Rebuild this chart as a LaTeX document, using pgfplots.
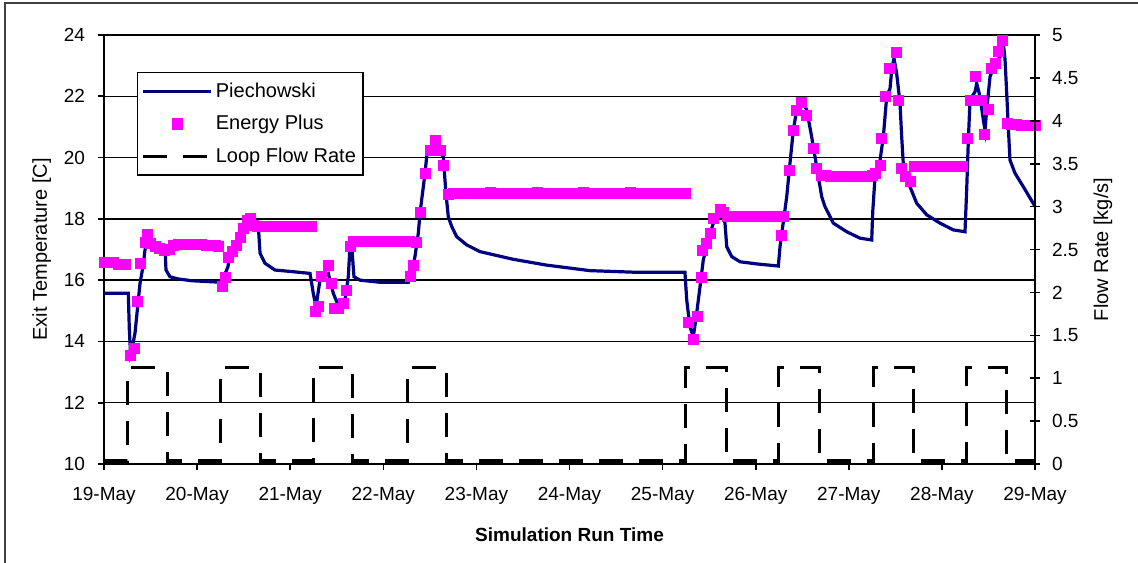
\documentclass[border=0pt]{standalone}
\usepackage{fontspec}
\setmainfont{Liberation Sans}
\usepackage{pgfplots}
\pgfplotsset{compat=1.18}
\definecolor{pnavy}{HTML}{000080}
\definecolor{epmag}{HTML}{FF00FF}

% common sizes: 1 px of the reference = 0.5pt
\pgfplotsset{
  basebox/.style={
    scale only axis, width=465.5pt, height=214.5pt,
    xmin=0, xmax=10, clip=false,
    /pgf/number format/assume math mode=true,
    tick label style={font=\fontsize{9.5}{11}\selectfont},
    tick style={black, line width=0.8pt},
    axis line style={black, line width=0.8pt},
  },
}

\begin{document}
\begin{tikzpicture}
\useasboundingbox (-52pt,-49pt) rectangle (517pt,232pt);
\draw[black!75, line width=0.9pt] (-49.5pt,-60pt) -- (-49.5pt,230.5pt) -- (530pt,230.5pt);

% ---- temperatures (left axis)
\begin{axis}[
  basebox,
  ymin=10, ymax=24,
  axis x line*=bottom, axis y line*=left,
  xtick={0,...,10},
  xticklabels={19-May,20-May,21-May,22-May,23-May,24-May,25-May,26-May,27-May,28-May,29-May},
  ytick={10,12,...,24},
  ymajorgrids, grid style={black, line width=0.7pt},
  tick align=outside, major tick length=3pt,
  xticklabel style={yshift=-5pt},
  yticklabel style={xshift=-3pt},
  xlabel={\bfseries Simulation Run Time},
  xlabel style={at={(axis description cs:0.5,-0.1655)}, anchor=center, font=\fontsize{9.5}{11}\selectfont},
  ylabel={Exit Temperature [C]},
  ylabel style={at={(axis description cs:-0.067,0.5)}, anchor=center, font=\fontsize{10}{12}\selectfont},
]

\addplot[pnavy, line width=1.6pt] coordinates {
(0,15.57) (0.261,15.57) (0.272,14.4) (0.285,13.6) (0.300,13.75) (0.333,14.27)
(0.387,15.9) (0.422,16.5) (0.440,16.98) (0.459,17.26) (0.473,17.09) (0.655,17.09)
(0.666,16.33) (0.709,16.11) (0.795,16.04) (0.945,15.98) (1.264,15.93) (1.332,16.44)
(1.353,16.9) (1.479,17.31) (1.533,17.74) (1.568,17.96) (1.590,17.85) (1.657,17.8)
(1.676,16.88) (1.729,16.55) (1.837,16.33) (2.016,16.28) (2.213,16.22) (2.248,15.57)
(2.277,15.13) (2.320,16.0) (2.374,16.17) (2.409,16.22) (2.463,15.57) (2.499,15.3)
(2.589,15.35) (2.624,16.11) (2.642,17.09) (2.661,17.09) (2.685,16.11) (2.750,16.0)
(2.965,15.93) (3.269,15.93) (3.305,16.22) (3.340,16.77) (3.376,17.53) (3.394,18.18)
(3.430,19.05) (3.448,19.49) (3.466,20.03) (3.502,20.3) (3.574,20.3) (3.644,20.03)
(3.673,18.83) (3.698,18.07) (3.735,17.75) (3.788,17.42) (3.896,17.15) (4.039,16.93)
(4.396,16.68) (4.755,16.49) (5.220,16.31) (5.685,16.26) (6.240,16.26) (6.259,15.35)
(6.294,14.48) (6.330,14.15) (6.366,14.92) (6.402,15.79) (6.437,16.66) (6.491,17.31)
(6.545,17.86) (6.598,18.18) (6.635,18.23) (6.670,17.86) (6.689,17.09) (6.742,16.77)
(6.831,16.6) (7.011,16.53) (7.243,16.46) (7.261,17.09) (7.333,18.72) (7.368,19.81)
(7.404,20.9) (7.440,21.55) (7.494,21.88) (7.548,21.55) (7.601,20.68) (7.655,19.7)
(7.709,18.72) (7.744,18.4) (7.834,17.86) (7.977,17.58) (8.120,17.37) (8.246,17.31)
(8.257,18.23) (8.282,19.38) (8.336,19.92) (8.371,20.68) (8.407,21.99) (8.443,22.26)
(8.461,22.86) (8.485,23.24) (8.514,22.75) (8.550,21.77) (8.568,20.68) (8.585,19.81)
(8.622,19.38) (8.657,19.05) (8.729,18.51) (8.837,18.13) (8.980,17.86) (9.122,17.64)
(9.248,17.58) (9.266,18.94) (9.284,20.57) (9.302,21.88) (9.356,22.15) (9.374,22.42)
(9.409,21.99) (9.445,21.23) (9.463,20.9) (9.481,21.55) (9.517,22.64) (9.570,23.07)
(9.624,23.29) (9.660,23.73) (9.678,23.2) (9.696,22.1) (9.713,21.01) (9.731,19.92)
(9.785,19.49) (9.874,19.05) (10.0,18.41)
};

\addplot[only marks, mark=square*, mark size=2.5pt, epmag, mark options={draw=epmag, fill=epmag}] coordinates {
(0,16.58) (0.05,16.58) (0.1,16.57) (0.15,16.52) (0.2,16.5) (0.23,16.5)
(0.279,13.56) (0.325,13.78) (0.358,15.3) (0.387,16.55) (0.44,17.22) (0.469,17.5)
(0.5,17.2) (0.55,17.1) (0.6,17.05) (0.65,16.98) (0.7,17.0) (0.75,17.12) (0.8,17.18)
(0.85,17.18) (0.9,17.18) (0.95,17.18) (1.0,17.18) (1.05,17.16) (1.1,17.15) (1.15,17.15)
(1.2,17.12) (1.23,17.1)
(1.27,15.79) (1.30,16.1) (1.34,16.75) (1.38,16.95) (1.42,17.15) (1.46,17.4) (1.50,17.7)
(1.54,17.95) (1.57,18.0)
(1.6,17.8) (1.65,17.75) (1.7,17.75) (1.75,17.75) (1.8,17.76) (1.85,17.76) (1.9,17.77)
(1.95,17.77) (2.0,17.77) (2.05,17.77) (2.1,17.77) (2.15,17.77) (2.2,17.77) (2.23,17.77)
(2.266,14.97) (2.302,15.13) (2.338,16.11) (2.409,16.49) (2.446,15.9) (2.47,15.08)
(2.517,15.08) (2.57,15.24) (2.607,15.68) (2.642,17.09) (2.678,17.26)
(2.72,17.26) (2.77,17.26) (2.82,17.26) (2.87,17.26) (2.92,17.26) (2.97,17.26) (3.02,17.26)
(3.07,17.26) (3.12,17.26) (3.17,17.26) (3.22,17.26) (3.28,17.26)
(3.29,16.11) (3.32,16.49) (3.359,17.22) (3.402,18.2) (3.448,19.49) (3.502,20.25)
(3.555,20.55) (3.609,20.25) (3.645,19.76) (3.698,18.8)
(3.75,18.83) (3.8,18.83) (3.85,18.83) (3.9,18.83) (3.95,18.83) (4.0,18.83) (4.05,18.83)
(4.1,18.83) (4.15,18.86) (4.2,18.83) (4.25,18.83) (4.3,18.83) (4.35,18.83) (4.4,18.83)
(4.45,18.83) (4.5,18.83) (4.55,18.83) (4.6,18.83) (4.65,18.86) (4.7,18.83) (4.75,18.83)
(4.8,18.83) (4.85,18.83) (4.9,18.83) (4.95,18.83) (5.0,18.83) (5.05,18.83) (5.1,18.83)
(5.15,18.86) (5.2,18.83) (5.25,18.83) (5.3,18.83) (5.35,18.83) (5.4,18.83) (5.45,18.83)
(5.5,18.83) (5.55,18.83) (5.6,18.83) (5.65,18.86) (5.7,18.83) (5.75,18.83) (5.8,18.83)
(5.85,18.83) (5.9,18.83) (5.95,18.83) (6.0,18.83) (6.05,18.83) (6.1,18.83) (6.15,18.83)
(6.2,18.83) (6.24,18.83)
(6.276,14.61) (6.33,14.05) (6.373,14.81) (6.413,16.09) (6.431,16.96) (6.474,17.2)
(6.509,17.53) (6.545,18.02) (6.617,18.31) (6.652,18.2)
(6.7,18.07) (6.75,18.07) (6.8,18.07) (6.85,18.07) (6.9,18.07) (6.95,18.07) (7.0,18.07)
(7.05,18.07) (7.1,18.07) (7.15,18.07) (7.2,18.07) (7.25,18.07) (7.3,18.07) (7.279,17.47)
(7.361,19.57) (7.404,20.9) (7.44,21.55) (7.494,21.79) (7.548,21.39) (7.619,20.3)
(7.655,19.65) (7.709,19.43)
(7.75,19.42) (7.8,19.4) (7.85,19.4) (7.9,19.4) (7.95,19.4) (8.0,19.4) (8.05,19.4)
(8.1,19.4) (8.15,19.4) (8.2,19.4) (8.25,19.42)
(8.282,19.49) (8.336,19.73) (8.353,20.63) (8.389,21.99) (8.435,22.91) (8.507,23.43)
(8.532,21.88) (8.568,19.65) (8.604,19.38) (8.657,19.21)
(8.7,19.7) (8.75,19.7) (8.8,19.7) (8.85,19.7) (8.9,19.7) (8.95,19.7) (9.0,19.7)
(9.05,19.7) (9.1,19.7) (9.15,19.7) (9.2,19.7) (9.22,19.7)
(9.273,20.63) (9.31,21.86) (9.356,22.64) (9.392,21.86) (9.427,21.86) (9.452,20.77)
(9.499,21.58) (9.535,22.91) (9.57,23.07) (9.606,23.46) (9.65,23.84)
(9.7,21.1) (9.75,21.08) (9.8,21.08) (9.85,21.06) (9.9,21.06) (9.95,21.06) (10.0,21.06)
};
\end{axis}

% ---- flow rate (right axis) and legend
\begin{axis}[
  basebox,
  ymin=0, ymax=5,
  axis x line=none, axis y line*=right,
  ytick={0,0.5,1,1.5,2,2.5,3,3.5,4,4.5,5},
  yticklabels={0,0.5,1,1.5,2,2.5,3,3.5,4,4.5,5},
  tick align=center, major tick length=5pt,
  yticklabel style={xshift=2.5pt},
  ylabel={Flow Rate [kg/s]},
  ylabel style={at={(axis description cs:1.073,0.5)}, anchor=center, font=\fontsize{10}{12}\selectfont},
  legend image code/.code={\draw[mark repeat=2,mark phase=2,#1] plot coordinates {(0pt,0pt) (17pt,0pt) (34pt,0pt)};},
  legend style={at={(axis description cs:0.0354,0.914)}, anchor=north west,
    draw=black, line width=0.7pt, fill=white,
    font=\fontsize{10}{12}\selectfont, row sep=3.5pt,
    inner xsep=2pt, inner ysep=3pt,
    nodes={inner xsep=1.5pt}},
  legend cell align=left,
]
\addlegendimage{pnavy, line width=1.6pt}
\addlegendentry{Piechowski}
\addlegendimage{only marks, mark=square*, mark size=2.5pt, epmag}
\addlegendentry{Energy Plus}

\addplot[black, line width=1.5pt, dash pattern=on 12pt off 8pt] coordinates {
(0,0.035) (0.255,0.035) (0.255,1.12) (0.677,1.12) (0.677,0.035)
(1.246,0.035) (1.246,1.12) (1.676,1.12) (1.676,0.035)
(2.245,0.035) (2.245,1.12) (2.664,1.12) (2.664,0.035)
(3.255,0.035) (3.255,1.12) (3.684,1.12) (3.684,0.035)
(6.251,0.035) (6.251,1.12) (6.681,1.12) (6.681,0.035)
(7.25,0.035) (7.25,1.12) (7.68,1.12) (7.68,0.035)
(8.26,0.035) (8.26,1.12) (8.69,1.12) (8.69,0.035)
(9.259,0.035) (9.259,1.12) (9.689,1.12) (9.689,0.035) (10,0.035)
};
\addlegendentry{Loop Flow Rate}
\end{axis}
\end{tikzpicture}
\end{document}
